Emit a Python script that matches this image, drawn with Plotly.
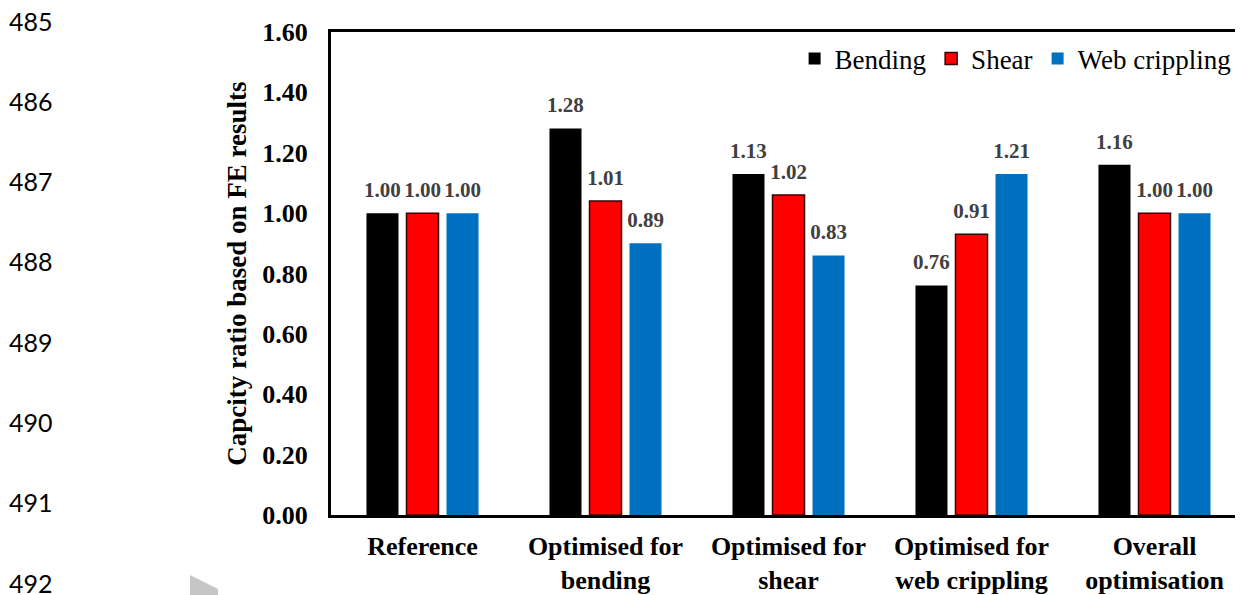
import plotly.graph_objects as go

# ---------------- data ----------------
categories = ["Reference", "Optimised for<br>bending", "Optimised for<br>shear",
              "Optimised for<br>web crippling", "Overall<br>optimisation"]
series_names = ["Bending", "Shear", "Web crippling"]
bending = [1.00, 1.28, 1.13, 0.76, 1.16]
shear = [1.00, 1.04, 1.06, 0.93, 1.00]
web_crippling = [1.00, 0.90, 0.86, 1.13, 1.00]
bending_labels = ["1.00", "1.28", "1.13", "0.76", "1.16"]
shear_labels = ["1.00", "1.01", "1.02", "0.91", "1.00"]
web_labels = ["1.00", "0.89", "0.83", "1.21", "1.00"]
y_ticks = [0.0, 0.2, 0.4, 0.6, 0.8, 1.0, 1.2, 1.4, 1.6]
line_numbers = ["485", "486", "487", "488", "489", "490", "491", "492"]

# ---------------- style / layout ----------------
colors = ["#000000", "#FF0000", "#0070C0"]
outline = ["#000000", "#3A0000", "#0070C0"]
outline_w = [0, 1.5, 0]
serif = "Liberation Serif, Times New Roman, serif"
OFF = 8                       # page body margin of the html page
W, H = 1243 - OFF, 595 - OFF
ML, MR, MT, MB = 331 - OFF, 0, 32 - OFF, 80
plot_w = W - ML - MR
plot_h = H - MT - MB
cat_px = 183.0
gap = 0.344


def px(xr):
    return (xr - OFF - ML) / plot_w


def py(yr):
    return (H - MB - (yr - OFF)) / plot_h


fig = go.Figure()
values = [bending, shear, web_crippling]
labels = [bending_labels, shear_labels, web_labels]
for name, vals, c, oc, ow in zip(series_names, values, colors, outline, outline_w):
    fig.add_trace(go.Bar(
        x=categories, y=vals, name=name,
        marker=dict(color=c, line=dict(color=oc, width=ow)),
        hoverinfo="skip",
    ))
for name, vals, lab in zip(series_names, values, labels):
    fig.add_trace(go.Scatter(
        x=categories, y=vals, text=lab, mode="markers+text",
        marker=dict(size=16, color="rgba(0,0,0,0)"),
        textposition="top center",
        textfont=dict(family=serif, size=21, color="#404040", weight="bold"),
        showlegend=False, hoverinfo="skip", cliponaxis=False,
    ))

annotations = []
for i, ln in enumerate(line_numbers):
    yc = 20.5 + 80.3 * i
    annotations.append(dict(
        xref="paper", yref="paper", x=px(7), y=py(yc),
        xanchor="left", yanchor="middle", showarrow=False, text=ln,
        font=dict(family="Lato, Liberation Sans, sans-serif", size=25, color="#000000"),
    ))

# faint watermark fragments
wm = "#C6C6C6"


def path(points):
    s = "M" + " L".join(f"{px(a):.5f},{py(b):.5f}" for a, b in points) + " Z"
    return dict(type="path", xref="paper", yref="paper", path=s,
                fillcolor=wm, line=dict(width=0), layer="below")


shapes = [
    path([(190, 575), (218, 589), (218, 596), (190, 596)]),
    path([(778, 7), (790, 1), (800, -1), (812, 3), (815, 7)]),
    path([(845, 7), (852, 0), (864, 0), (860, 7)]),
]

fig.update_layout(
    width=W, height=H,
    margin=dict(l=ML, r=MR, t=MT, b=MB, pad=0),
    paper_bgcolor="white", plot_bgcolor="white",
    barmode="group", bargap=gap, bargroupgap=0.2,
    scattermode="group", scattergap=gap,
    showlegend=True,
    legend=dict(orientation="h", x=0.993, xanchor="right", y=0.995, yanchor="top",
                font=dict(family=serif, size=27, color="#000000"),
                bgcolor="rgba(0,0,0,0)", traceorder="normal", itemclick=False,
                itemwidth=30),
    annotations=annotations,
    shapes=shapes,
    xaxis=dict(
        type="category",
        range=[-0.5, -0.5 + plot_w / cat_px],
        showline=True, linecolor="#000000", linewidth=2.5, mirror=True,
        ticks="", showgrid=False, zeroline=False,
        tickfont=dict(family=serif, size=26, color="#000000", weight="bold"),
        ticklabelstandoff=6,
        automargin=False,
    ),
    yaxis=dict(
        range=[0, 1.6], tickvals=y_ticks, tickformat=".2f",
        showline=True, linecolor="#000000", linewidth=3, mirror=False,
        ticks="", showgrid=False, zeroline=False,
        tickfont=dict(family=serif, size=26, color="#000000", weight="bold"),
        ticklabelstandoff=15,
        title=dict(text="Capcity ratio based on FE results",
                   font=dict(family=serif, size=27, color="#000000", weight="bold"),
                   standoff=8),
        automargin=False,
    ),
)

fig.write_html("out.html")
